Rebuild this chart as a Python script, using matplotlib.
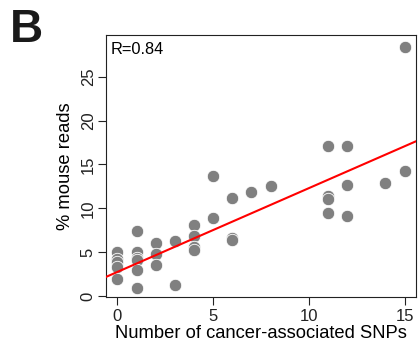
import numpy as np
import matplotlib
matplotlib.use("Agg")
import matplotlib.pyplot as plt

plt.rcParams['font.family'] = ['Liberation Sans', 'DejaVu Sans']

snps = [0, 0, 0, 0, 0,
        1, 1, 1, 1, 1, 1,
        2, 2, 2,
        3, 3,
        4, 4, 4, 4,
        5, 5,
        6, 6, 6,
        7, 8,
        11, 11, 11, 11,
        12, 12, 12,
        14,
        15, 15]
mouse_reads = [5.0, 4.2, 3.9, 3.3, 1.95,
               7.4, 5.05, 4.4, 4.1, 2.95, 0.95,
               6.1, 4.85, 3.5,
               6.3, 1.25,
               8.15, 6.8, 5.6, 5.3,
               13.7, 8.9,
               11.2, 6.6, 6.45,
               11.9, 12.6,
               17.1, 11.4, 11.1, 9.5,
               17.1, 12.7, 9.1,
               12.9,
               28.4, 14.2]
# regression line
fit_intercept = 2.76
fit_slope = 0.954
r_label = "R=0.84"
x_ticks = [0, 5, 10, 15]
y_ticks = [0, 5, 10, 15, 20, 25]

fig = plt.figure(figsize=(4.18, 3.49), dpi=100)
ax = fig.add_axes([106/418, 1-297/349, 310/418, 262/349])

ax.scatter(snps, mouse_reads, s=80, color='#808080', edgecolors='white',
           linewidths=0.6, zorder=3)
xl = np.array([-0.6, 15.6])
ax.plot(xl, fit_intercept + fit_slope*xl, color='#ff0000', lw=1.5, zorder=4)

ax.set_xlim(-0.6, 15.6)
ax.set_ylim(-0.1, 29.75)
ax.set_xticks(x_ticks)
ax.set_yticks(y_ticks)
ax.tick_params(axis='both', direction='out', length=5.8, width=0.8,
               labelsize=12, colors='#222222')
ax.tick_params(axis='x', pad=2.5)
ax.tick_params(axis='y', pad=1.5)
for lab in ax.get_yticklabels():
    lab.set_rotation(90)
    lab.set_va('center')
for sp in ax.spines.values():
    sp.set_linewidth(0.8)
    sp.set_color('#222222')

ax.set_xlabel("Number of cancer-associated SNPs", fontsize=13.2, labelpad=0.8)
ax.set_ylabel("% mouse reads", fontsize=13.2, labelpad=5)
ax.text(0.014, 0.975, r_label, transform=ax.transAxes, ha='left', va='top',
        fontsize=11.8)
fig.text(10/418, 1-8/349, "B", fontsize=33, fontweight='bold', ha='left', va='top',
         color='#1a1a1a')

fig.savefig("out.png", dpi=100)
